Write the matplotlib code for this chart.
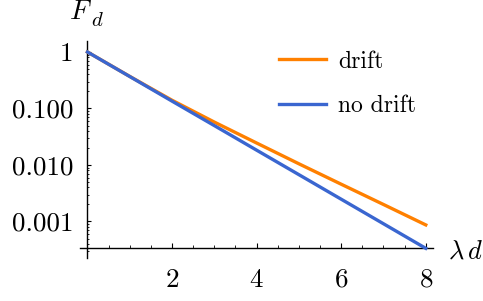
import numpy as np
import matplotlib
matplotlib.use("Agg")
import matplotlib.pyplot as plt
from matplotlib.ticker import FixedLocator, FixedFormatter, MultipleLocator, LogLocator, NullFormatter

# values (log scale)
lam_d = [0, 1, 2, 3, 4, 5, 6, 7, 8]
f_drift = [1.0, 0.370, 0.140, 0.0575, 0.0245, 0.0105, 0.00457, 0.00200, 0.00087]
f_nodrift = [1.0, 0.368, 0.135, 0.0498, 0.0183, 0.00674, 0.00248, 0.000912, 0.000335]

yticks = [1, 0.1, 0.01, 0.001]
yticklabels = ["1", "0.100", "0.010", "0.001"]
xticks = [2, 4, 6, 8]
series_names = ["drift", "no drift"]
colors = ["#ff8000", "#3a66d0"]

plt.rcParams['font.family'] = ['cmr10', 'DejaVu Serif']
plt.rcParams['mathtext.fontset'] = 'cm'
plt.rcParams['axes.formatter.use_mathtext'] = True

fig = plt.figure(figsize=(4.83, 3.01), dpi=100)
ax = fig.add_axes([0.1656, 0.1429, 0.7308, 0.7209])

ax.plot(lam_d, f_drift, color=colors[0], lw=2.4, zorder=3)
ax.plot(lam_d, f_nodrift, color=colors[1], lw=2.4, zorder=4)

ax.set_yscale("log")
ax.set_xlim(-0.177, 8.17)
ax.set_ylim(2.26e-4, 1.566)

for s in ["top", "right"]:
    ax.spines[s].set_visible(False)
ax.spines["left"].set_position(("data", 0))
ax.spines["bottom"].set_position(("data", 3.35e-4))
for s in ["left", "bottom"]:
    ax.spines[s].set_linewidth(1.0)

ax.yaxis.set_major_locator(FixedLocator(yticks))
ax.yaxis.set_major_formatter(FixedFormatter(yticklabels))
ax.yaxis.set_minor_locator(LogLocator(base=10, subs=np.arange(2, 10)))
ax.yaxis.set_minor_formatter(NullFormatter())
ax.xaxis.set_major_locator(FixedLocator(xticks))
ax.xaxis.set_minor_locator(MultipleLocator(0.5))

ax.tick_params(axis="y", which="major", direction="in", length=2.6, width=0.8, labelsize=19.5, pad=10)
ax.tick_params(axis="y", which="minor", direction="in", length=1.5, width=0.6)
ax.tick_params(axis="x", which="major", direction="in", length=3.6, width=0.8, labelsize=19.5, pad=14)
ax.tick_params(axis="x", which="minor", direction="in", length=2.2, width=0.6)

# axis labels
fig.text(80 / 483, 1 - 12 / 301, r"$F$", fontsize=20, ha="center", va="center")
fig.text(97 / 483, 1 - 21 / 301, r"$d$", fontsize=15, ha="center", va="center")
fig.text(465 / 483, 1 - 252 / 301, r"$\lambda\,d$", fontsize=19, ha="center", va="center")

# legend drawn by hand
for name, c, yy in zip(series_names, colors, [0.917, 0.710]):
    ax.plot([0.564, 0.697], [yy, yy], color=c, lw=2.4, transform=ax.transAxes, clip_on=False)
    ax.text(0.731, yy, name, fontsize=17, ha="left", va="center_baseline", transform=ax.transAxes)

fig.savefig("out.png", dpi=100)
